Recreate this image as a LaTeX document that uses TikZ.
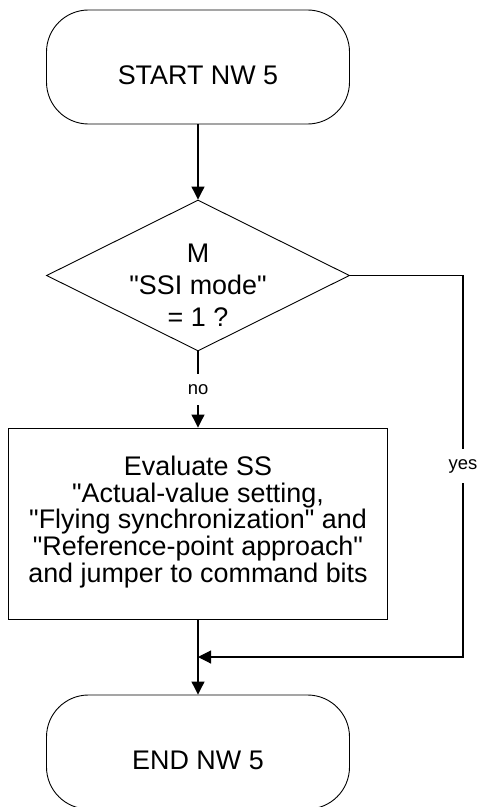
\documentclass[tikz,border=0pt]{standalone}
\usepackage{fontspec}
\setmainfont{Liberation Sans}
\usetikzlibrary{shapes.geometric,arrows.meta}
\newcommand\dq{\XeTeXglyph\XeTeXcharglyph"22\relax}
\begin{document}
\begin{tikzpicture}[x=1bp,y=-1bp,
  term/.style={draw,line width=0.9bp,rounded corners=42bp,minimum width=303bp,minimum height=114bp,inner sep=0pt},
  dia/.style={draw,line width=0.9bp,diamond,minimum width=303bp,minimum height=151bp,inner sep=0pt},
  box/.style={draw,line width=0.9bp,rectangle,minimum width=379bp,minimum height=191bp,inner sep=0pt},
  txt/.style={inner sep=0pt,align=center,font=\fontsize{27}{27}\selectfont},
  lbl/.style={fill=white,inner xsep=2bp,inner ysep=10bp,font=\fontsize{18.5}{20}\selectfont},
  arr/.style={line width=1.1bp,-{Triangle[length=13bp,width=13bp]}},
  ln/.style={line width=1.1bp}]
\useasboundingbox (0,0) rectangle (481,807);
\node[term] (start) at (198,67) {};
\node[txt] (starttxt) at (198,75) {START NW 5};
\node[dia] (dec) at (198,275.5) {};
\node[txt,font=\fontsize{27}{32}\selectfont] (dectxt) at (198,285) {M\\\dq SSI mode\dq\\= 1 ?};
\node[box] (eval) at (198,523.5) {};
\node[txt] (evaltxt) at (198,522) {Evaluate SS\\\dq Actual-value setting,\\\dq Flying synchronization\dq{} and\\\dq Reference-point approach\dq\\and jumper to command bits};
\node[term] (end) at (198,752) {};
\node[txt] (endtxt) at (198,760) {END NW 5};
\coordinate (c1) at (463,275.5);
\coordinate (c2) at (463,657);
\coordinate (j) at (198,657);
\draw[arr] (start.south) -- (dec.north);
\draw[arr] (dec.south) -- node[lbl] (no) {no} (eval.north);
\draw[arr] (dec.east) -- (c1) -- node[lbl] (yes) {yes} (c2) -- (j);
\draw[arr] (eval.south) -- (end.north);
\end{tikzpicture}
\end{document}
